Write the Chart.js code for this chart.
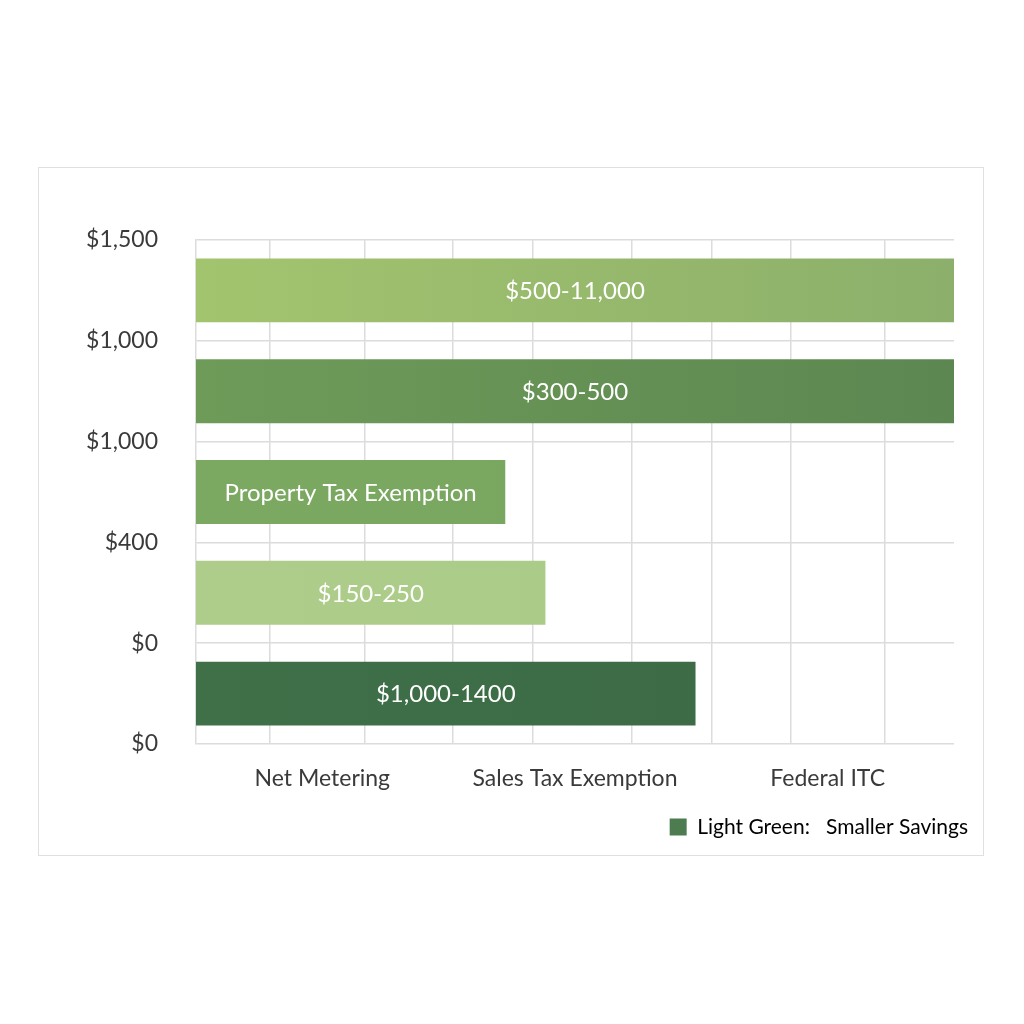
<!DOCTYPE html>
<html>
<head>
<meta charset="utf-8">
<script src="https://cdn.jsdelivr.net/npm/chart.js@4.4.1/dist/chart.umd.min.js"></script>
<style>
  html, body { margin: 0; padding: 0; background: #fff; }
  body { width: 1024px; height: 1024px; position: relative; overflow: hidden; }
  #frame {
    position: absolute; left: 38px; top: 167px;
    width: 944px; height: 687px;
    border: 1.5px solid #e0e0e0;
  }
  #chart { position: absolute; left: 0; top: 0; }
</style>
</head>
<body>
<div id="frame"></div>
<canvas id="chart" width="1024" height="1024"></canvas>
<script>
// bars, top to bottom
const barLabels = ["$500-11,000", "$300-500", "Property Tax Exemption", "$150-250", "$1,000-1400"];
const barValues = [100, 100, 40.8, 46.1, 65.9];

// y tick labels, from value 0 (bottom) to 5 (top)
const yTickLabels = ["$0", "$0", "$400", "$1,000", "$1,000", "$1,500"];

// bottom category labels
const xCategories = ["Net Metering", "Sales Tax Exemption", "Federal ITC"];

// vertical grid line positions on the value axis (0-100)
const xGridTicks = [9.7, 22.2, 33.9, 44.4, 57.5, 68.1, 78.5, 90.8];

const legendLabel = "Light Green:   Smaller Savings";

const barColorsStart = ["#a3c46e", "#6f9b59", "#7ba962", "#aecd8b", "#3f7048"];
const barColorsEnd = ["#8caf6b", "#5c8751", "#77a45e", "#a8c986", "#3b6945"];
const legendColor = "#4d7c51";

const FONT = "Lato, 'Open Sans', sans-serif";
const GRID = "#dcdcdc";

function barGradient(context) {
    const chart = context.chart;
    const area = chart.chartArea;
    const i = context.dataIndex;
    if (!area) return barColorsStart[i];
    const g = chart.ctx.createLinearGradient(area.left, 0, area.right, 0);
    g.addColorStop(0, barColorsStart[i]);
    g.addColorStop(1, barColorsEnd[i]);
    return g;
}

const barLabelPlugin = {
    id: "barLabels",
    afterDatasetsDraw(chart) {
        const ctx = chart.ctx;
        const meta = chart.getDatasetMeta(0);
        ctx.save();
        ctx.fillStyle = "#ffffff";
        ctx.font = "24px " + FONT;
        ctx.textAlign = "center";
        ctx.textBaseline = "middle";
        meta.data.forEach((bar, i) => {
            ctx.fillText(barLabels[i], (bar.base + bar.x) / 2, bar.y + 1);
        });
        ctx.restore();
    }
};

new Chart(document.getElementById("chart"), {
    type: "bar",
    data: {
        labels: barLabels,
        datasets: [{
            label: legendLabel,
            data: barValues,
            backgroundColor: barGradient,
            borderWidth: 0,
            barPercentage: 0.634,
            categoryPercentage: 1,
            xAxisID: "x",
            yAxisID: "y",
        }]
    },
    options: {
        indexAxis: "y",
        responsive: false,
        animation: false,
        layout: {
            padding: { top: 240, left: 30, right: 46, bottom: 176.5 }
        },
        plugins: {
            tooltip: { enabled: false },
            legend: {
                position: "bottom",
                align: "end",
                labels: {
                    boxWidth: 17,
                    boxHeight: 17,
                    padding: 10,
                    color: "#333333",
                    font: { size: 21, family: FONT },
                    generateLabels: () => [{
                        text: legendLabel,
                        fillStyle: legendColor,
                        strokeStyle: legendColor,
                        lineWidth: 0,
                        hidden: false,
                        datasetIndex: 0,
                    }]
                }
            }
        },
        scales: {
            y: {
                type: "category",
                display: false,
            },
            y2: {
                type: "linear",
                position: "left",
                min: 0,
                max: 5,
                offset: false,
                grid: { color: GRID, lineWidth: 1.5, drawTicks: false, offset: false },
                border: { display: true, color: GRID, width: 1.5 },
                ticks: {
                    stepSize: 1,
                    padding: 38,
                    color: "#3a3a3a",
                    font: { size: 23, family: FONT },
                    callback: (v) => yTickLabels[v],
                },
                afterFit: (scale) => { scale.width = 166; },
            },
            yR: {
                type: "linear",
                position: "right",
                offset: false,
                grid: { display: false, offset: false },
                border: { display: false },
                ticks: { display: false },
                afterFit: (scale) => { scale.width = 24; },
            },
            x: {
                type: "linear",
                position: "bottom",
                min: 0,
                max: 100,
                grid: { color: GRID, lineWidth: 1.5, drawTicks: false },
                border: { display: false },
                ticks: { display: false },
                afterBuildTicks: (scale) => {
                    scale.ticks = xGridTicks.map(v => ({ value: v }));
                },
                afterFit: (scale) => { scale.height = 0; },
            },
            x2: {
                type: "category",
                position: "bottom",
                labels: xCategories,
                offset: true,
                grid: { display: false },
                border: { display: false },
                ticks: {
                    padding: 13,
                    color: "#3a3a3a",
                    font: { size: 23, family: FONT },
                },
                afterFit: (scale) => { scale.height = 62.5; },
            }
        }
    },
    plugins: [barLabelPlugin]
});
</script>
</body>
</html>
